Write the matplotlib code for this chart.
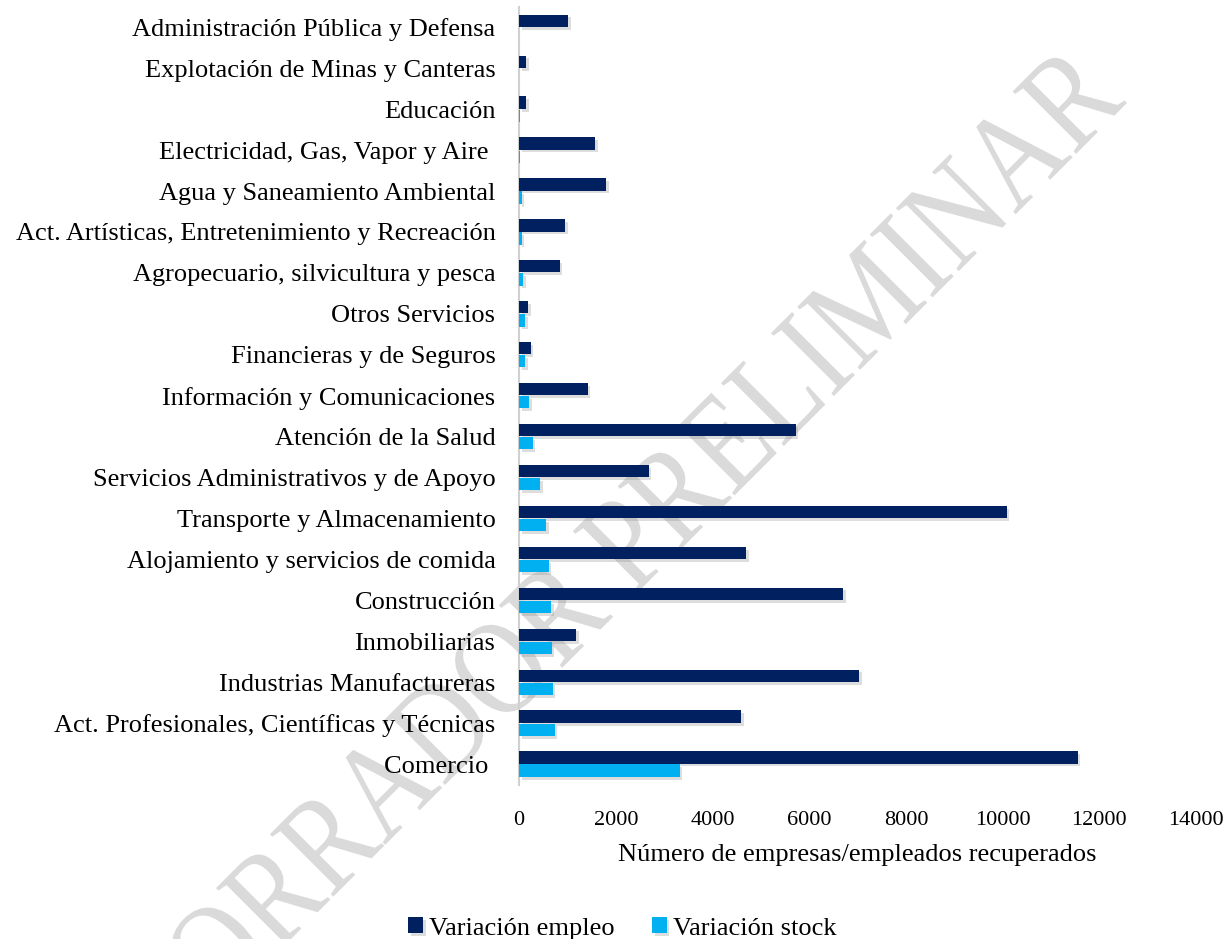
import numpy as np
import matplotlib
matplotlib.use("Agg")
import matplotlib.pyplot as plt
import matplotlib.patheffects as pe
from matplotlib.textpath import TextPath
from matplotlib.patches import PathPatch
from matplotlib.font_manager import FontProperties
from matplotlib.transforms import Affine2D, IdentityTransform

plt.rcParams["font.family"] = ["Liberation Serif", "DejaVu Serif"]

# bottom to top
sectores = [
    "Comercio ",
    "Act. Profesionales, Científicas y Técnicas",
    "Industrias Manufactureras",
    "Inmobiliarias",
    "Construcción",
    "Alojamiento y servicios de comida",
    "Transporte y Almacenamiento",
    "Servicios Administrativos y de Apoyo",
    "Atención de la Salud",
    "Información y Comunicaciones",
    "Financieras y de Seguros",
    "Otros Servicios",
    "Agropecuario, silvicultura y pesca",
    "Act. Artísticas, Entretenimiento y Recreación",
    "Agua y Saneamiento Ambiental",
    "Electricidad, Gas, Vapor y Aire ",
    "Educación",
    "Explotación de Minas y Canteras",
    "Administración Pública y Defensa",
]
var_empleo = [11550, 4590, 7030, 1180, 6700, 4690, 10080, 2680, 5720, 1420,
              240, 180, 840, 960, 1800, 1570, 145, 145, 1020]
var_stock = [3320, 735, 695, 675, 660, 610, 555, 440, 280, 205,
             125, 125, 90, 55, 55, 10, 10, 0, 0]

DARK = "#002060"
LIGHT = "#00b0f0"

fig = plt.figure(figsize=(12.23, 9.39), dpi=100)
ax = fig.add_axes([0.4244, 0.1645, 0.5536, 0.8282])
ax.set_zorder(2)
ax.patch.set_alpha(0)

y = np.arange(len(sectores))
h = 0.3
shadow = [pe.SimplePatchShadow(offset=(2, -2), shadow_rgbFace="#909090", alpha=0.3), pe.Normal()]
b1 = ax.barh(y + 0.16, var_empleo, height=h, color=DARK, label="Variación empleo", zorder=3)
b2 = ax.barh(y - 0.16, var_stock, height=h, color=LIGHT, label="Variación stock", zorder=3)
for b in list(b1) + list(b2):
    b.set_path_effects(shadow)

ax.set_xlim(0, 14000)
ax.set_ylim(-0.5, len(sectores) - 0.5)
ax.set_xticks(range(0, 14001, 2000))
ax.set_yticks(y)
ax.set_yticklabels(sectores, fontsize=19)
ax.tick_params(axis="x", labelsize=16, length=0, pad=19)
ax.tick_params(axis="y", length=0, pad=17)
for s in ["top", "right", "bottom"]:
    ax.spines[s].set_visible(False)
ax.spines["left"].set_color("#d0d0d0")
ax.spines["left"].set_linewidth(1.5)
ax.set_xlabel("Número de empresas/empleados recuperados", fontsize=19, labelpad=10)

leg = fig.legend(handles=[b1, b2], loc="lower center", bbox_to_anchor=(0.509, -0.026), ncol=2,
                 frameon=False, fontsize=19, handlelength=0.55, handleheight=0.55,
                 handletextpad=0.25, columnspacing=1.4)
leg.set_zorder(3)

# watermark, slightly condensed, behind everything
tp = TextPath((0, 0), "BORRADOR PRELIMINAR", size=136,
              prop=FontProperties(family="Liberation Serif"))
w = tp.get_extents().x1
tr = Affine2D().translate(-w, 0).scale(0.84, 1.0).rotate_deg(45).translate(1127, 939 - 103)
wm = PathPatch(tr.transform_path(tp), transform=IdentityTransform(),
               facecolor="#dadada", edgecolor="none", zorder=1)
fig.add_artist(wm)

fig.savefig("out.png", dpi=100)
